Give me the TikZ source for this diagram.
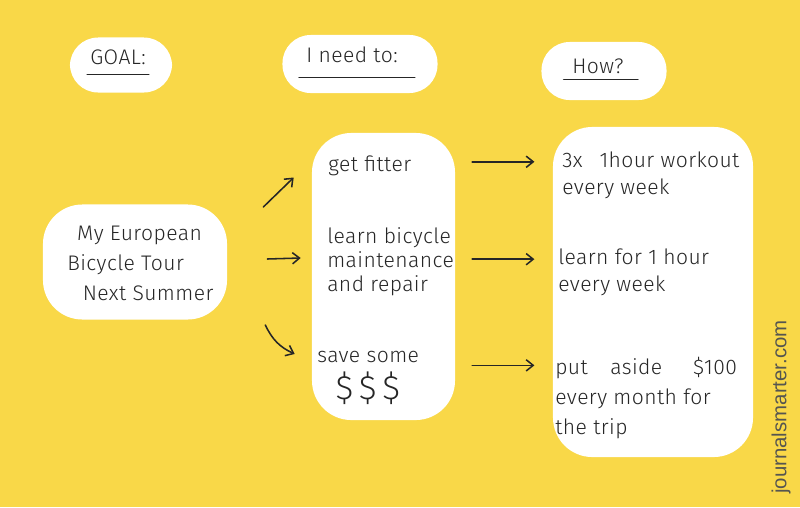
\documentclass[tikz,border=0pt]{standalone}
\usepackage{fontspec}
\usetikzlibrary{arrows.meta,positioning}
\newfontfamily\handfont{Fira Sans}[UprightFont={* Light},LetterSpace=2]
\newfontfamily\markfont{Liberation Sans}
\definecolor{sunny}{RGB}{249,216,72}
\definecolor{markgray}{RGB}{85,85,80}

\tikzset{
  blob/.style={fill=white, rounded corners=28pt, inner sep=0pt},
  headblob/.style={fill=white, rounded corners=20pt, inner sep=0pt},
  hand/.style={font=\handfont\fontsize{15}{17}\selectfont, align=left, inner sep=0pt, text=black!85},
  pen/.style={line width=1.1pt, black!85, line cap=round},
  arr/.style={pen, -{Straight Barb[length=5pt,width=8pt]}},
}

\begin{document}
\begin{tikzpicture}[x=0.025cm, y=-0.025cm]

  % Background
  \fill[sunny] (0,0) rectangle (800,507);
  \useasboundingbox (0,0) rectangle (800,507);

  % Headers
  \node[headblob, minimum width=2.55cm, minimum height=1.375cm] (goalblob) at (121,65) {};
  \node[hand] (goal) at (118,57) {GOAL:};
  \draw[pen] ([xshift=-2pt,yshift=-7pt]goal.south west) -- ([xshift=2pt,yshift=-7pt]goal.south east);

  \node[headblob, minimum width=3.875cm, minimum height=1.45cm] (needhead) at (360,64) {};
  \node[hand] (need) at (352,55) {I need to:};
  \draw[pen] ([xshift=-5pt,yshift=-10pt]need.south west) -- ([xshift=12pt,yshift=-10pt]need.south east);

  \node[headblob, minimum width=3.125cm, minimum height=1.45cm] (howhead) at (604,71) {};
  \node[hand] (how) at (598,66) {How?};
  \draw[pen] ([xshift=-6pt,yshift=-4pt]how.south west) -- ([xshift=10pt,yshift=-4pt]how.south east);

  % Blobs
  \node[blob, minimum width=4.6cm, minimum height=2.875cm] (tourblob) at (135,262) {};
  \node[blob, minimum width=3.575cm, minimum height=7.175cm] (needblob) at (383.5,276.5) {};
  \node[blob, minimum width=5cm, minimum height=8.25cm] (howblob) at (653,292) {};

  % Texts
  \node[hand, anchor=west, font=\handfont\fontsize{15}{21.3}\selectfont] (tour) at (67,263)
    {\hspace*{7pt}My European\\Bicycle Tour\\\hspace*{11pt}Next Summer};

  \node[hand, anchor=west] (fitter) at (328,166) {get fitter};
  \node[hand, anchor=west] (maintain) at (327,262) {learn bicycle\\maintenance\\and repair};
  \node[hand, anchor=west] (save) at (317,378)
    {save some\\[6pt]\hspace*{13pt}{\fontsize{24}{24}\selectfont\$\,\$\,\$}};

  \node[hand, anchor=west, font=\handfont\fontsize{15}{19.2}\selectfont] (workout) at (562,175)
    {3x\hspace{12pt}1hour workout\\every week};
  \node[hand, anchor=west, font=\handfont\fontsize{15}{19.2}\selectfont] (learnhour) at (558,272)
    {learn for 1 hour\\every week};
  \node[hand, anchor=west, font=\handfont\fontsize{15}{21.3}\selectfont] (aside) at (555,398)
    {put\hspace{16pt}aside\hspace{22pt}\$100\\every month for\\the trip};

  % Arrows to the needs
  \draw[arr] ([shift={(36,-55)}]tourblob.east) -- ([shift={(-18,-99)}]needblob.west);
  \draw[arr] ([shift={(40,-3)}]tourblob.east) -- ([shift={(-11,-18.5)}]needblob.west);
  \draw[arr] ([shift={(38,63)}]tourblob.east) to[bend right=20] ([shift={(-17,77.5)}]needblob.west);

  % Arrows to the hows
  \draw[arr, shorten <=12pt, shorten >=13pt] ([yshift=3pt]needblob.east |- fitter) -- ([yshift=3pt]howblob.west |- fitter);
  \draw[arr, shorten <=12pt, shorten >=13pt] ([yshift=2pt]needblob.east |- maintain) -- ([yshift=2pt]howblob.west |- maintain);
  \draw[arr, shorten <=12pt, shorten >=13pt] ([yshift=9pt]needblob.east |- save) -- ([yshift=9pt]howblob.west |- save);

  % Credit
  \node[font=\markfont\fontsize{14.5}{16}\selectfont, text=markgray, rotate=90] (credit) at (781,407) {journalsmarter.com};

\end{tikzpicture}
\end{document}
